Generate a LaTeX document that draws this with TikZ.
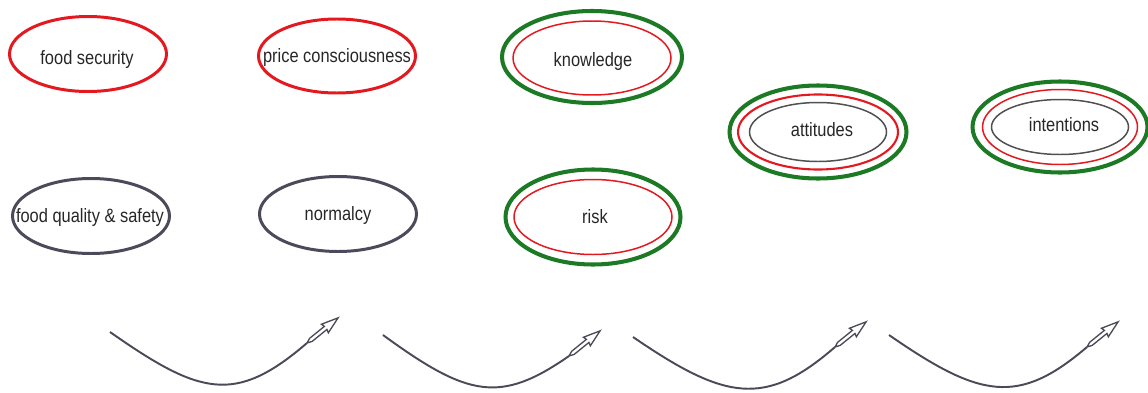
\documentclass[tikz,border=0pt]{standalone}
\usepackage{fontspec}
\setmainfont{Liberation Sans}[FakeStretch=0.85]
\definecolor{ringred}{HTML}{E3191F}
\definecolor{ringdark}{HTML}{4A4A5A}
\definecolor{ringgreen}{HTML}{1C7A24}
\definecolor{ringgray}{HTML}{505050}
\definecolor{curvegray}{HTML}{4A4A58}
\definecolor{labelgray}{HTML}{262626}
\begin{document}
\begin{tikzpicture}[x=0.02cm, y=-0.02cm,
  conceptlabel/.style={inner sep=0pt, text=labelgray, text height=1.38ex, text depth=0.4ex,
    yshift=-0.04cm, font=\fontsize{11}{13}\selectfont},
  redring/.style={draw=ringred, line width=1.7pt},
  darkring/.style={draw=ringdark, line width=1.7pt},
  greenring/.style={draw=ringgreen, line width=2.3pt},
  thinred/.style={draw=ringred, line width=0.85pt},
  thingray/.style={draw=ringgray, line width=0.85pt},
  swoop/.style={draw=curvegray, line width=1.1pt},
  hollowhead/.style={draw=curvegray, line width=0.75pt, fill=white, line join=miter}]
\useasboundingbox (0,0) rectangle (1148,392);

% ring centres
\coordinate (fsc) at (88,54);
\coordinate (pcc) at (337,56);
\coordinate (fqc) at (91,216);
\coordinate (nmc) at (338,214);
\coordinate (knc) at (592,57);
\coordinate (rkc) at (593,217);
\coordinate (atc) at (818,132);
\coordinate (inc) at (1060,127);

% first column
\node[conceptlabel] (fs) at (87,58) {food security};
\draw[redring] (fsc) ellipse [x radius=78.5, y radius=37.5];
\node[conceptlabel] (pc) at (337,56) {price consciousness};
\draw[redring] (pcc) ellipse [x radius=78.5, y radius=37];
\node[conceptlabel] (fq) at (90,216) {food quality \& safety};
\draw[darkring] (fqc) ellipse [x radius=78.5, y radius=37.5];
\node[conceptlabel] (nm) at (338,214) {normalcy};
\draw[darkring] (nmc) ellipse [x radius=78.5, y radius=37.5];

% second column: double rings
\node[conceptlabel] (kn) at (593,60) {knowledge};
\draw[greenring] (knc) ellipse [x radius=90, y radius=46];
\draw[thinred] ([yshift=-0.02cm]knc) ellipse [x radius=79, y radius=37];
\node[conceptlabel] (rk) at (595,217) {risk};
\draw[greenring] (rkc) ellipse [x radius=87.5, y radius=47.5];
\draw[thinred] (rkc) ellipse [x radius=79, y radius=37.5];

% third column: triple rings
\node[conceptlabel] (at) at (822,130) {attitudes};
\draw[greenring] (atc) ellipse [x radius=88.5, y radius=46.5];
\draw[redring, line width=1.2pt] (atc) ellipse [x radius=80, y radius=37.5];
\draw[thingray] (atc) ellipse [x radius=68.5, y radius=29.5];
\node[conceptlabel] (in) at (1064,125) {intentions};
\draw[greenring] (inc) ellipse [x radius=87.5, y radius=45.5];
\draw[thinred] (inc) ellipse [x radius=77.5, y radius=37.5];
\draw[thingray] (inc) ellipse [x radius=68.5, y radius=27.5];

% swooping arrows along the bottom
\coordinate (s1) at (110,332); \coordinate (b1) at (307,343);
\coordinate (s2) at (383,335); \coordinate (b2) at (569,356);
\coordinate (s3) at (633,337); \coordinate (b3) at (835,347);
\coordinate (s4) at (889,335); \coordinate (b4) at (1087,347);

\draw[swoop] (s1) .. controls (200,395) and (235,405) .. (b1);
\draw[swoop] (s2) .. controls (468,397) and (500,404) .. (b2);
\draw[swoop] (s3) .. controls (725,400) and (765,408) .. (b3);
\draw[swoop] (s4) .. controls (980,398) and (1018,406) .. (b4);

\foreach \b in {b1,b2,b3,b4}{
  \begin{scope}[shift={(\b)}, rotate=39]
    \draw[hollowhead] (0,0) -- (5,2) -- (24,2) -- (23,5.5) -- (40,0)
      -- (23,-5.5) -- (24,-2) -- (5,-2) -- cycle;
  \end{scope}
}
\end{tikzpicture}
\end{document}
